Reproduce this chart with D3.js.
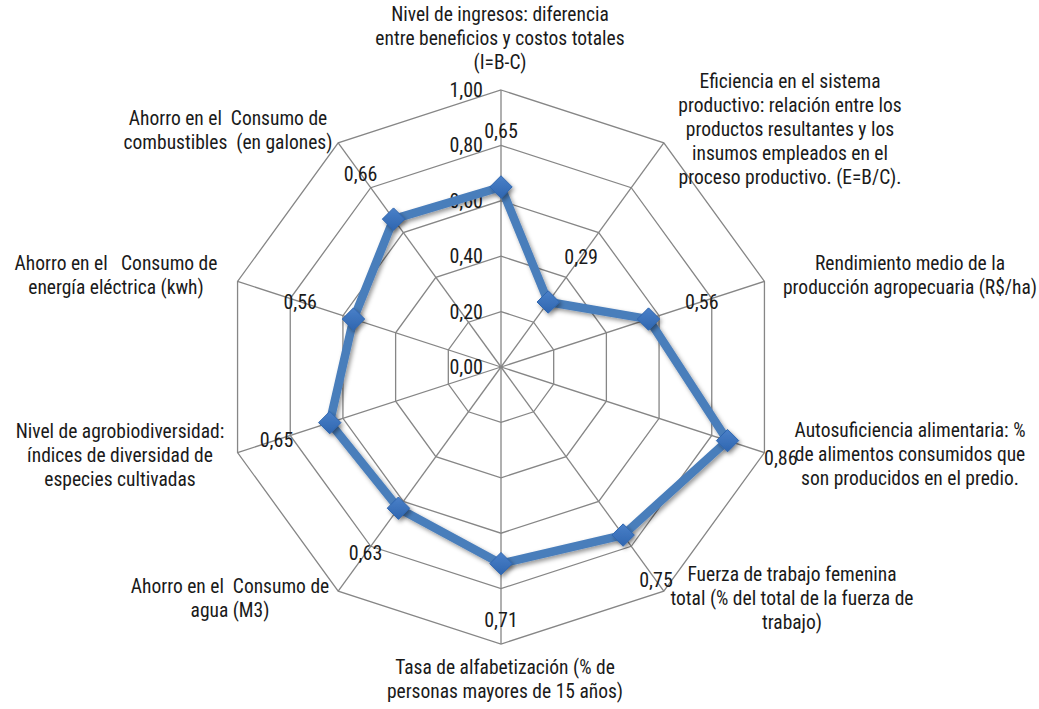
<!DOCTYPE html>
<html>
<head>
<meta charset="utf-8">
<script src="https://cdn.jsdelivr.net/npm/d3@7"></script>
<style>
  body { margin: 0; background: #fff; }
  svg text { font-family: "Liberation Sans Narrow", "Arial Narrow", "Roboto Condensed", "Liberation Sans", sans-serif; fill: #1a1a1a; }
</style>
</head>
<body>
<svg id="chart" width="1039" height="709"></svg>
<script>
// categories (clockwise from top), each label split in lines
const categories = [
  ["Nivel de ingresos: diferencia", "entre beneficios y costos totales", "(I=B-C)"],
  ["Eficiencia en el sistema", "productivo: relación entre los", "productos resultantes y los", "insumos empleados en el", "proceso productivo. (E=B/C)."],
  ["Rendimiento medio de la", "producción agropecuaria (R$/ha)"],
  ["Autosuficiencia alimentaria: %", "de alimentos consumidos que", "son producidos en el predio."],
  ["Fuerza de trabajo femenina", "total (% del total de la fuerza de", "trabajo)"],
  ["Tasa de alfabetización (% de", "personas mayores de 15 años)"],
  ["Ahorro en el  Consumo de", "agua (M3)"],
  ["Nivel de agrobiodiversidad:", "índices de diversidad de", "especies cultivadas"],
  ["Ahorro en el   Consumo de", "energía eléctrica (kwh)"],
  ["Ahorro en el  Consumo de", "combustibles  (en galones)"]
]
const values = [0.65, 0.29, 0.56, 0.86, 0.75, 0.71, 0.63, 0.65, 0.56, 0.66]
const ticks = [0, 0.2, 0.4, 0.6, 0.8, 1.0]

// layout
const cx = 501, cy = 367, R = 277
// centre of each category text block (same order as categories)
const labelCenters = [
  [500, 38], [790, 129], [910, 275], [910, 454], [792, 598],
  [505, 679], [230, 598], [120, 455], [116, 275], [228, 130]
]
const lineH = 24

const svg = d3.select("#chart")
const r = d3.scaleLinear().domain([0, 1]).range([0, R])
const angle = (i) => (i * 2 * Math.PI) / categories.length
const pt = (i, v) => [cx + r(v) * Math.sin(angle(i)), cy - r(v) * Math.cos(angle(i))]

const defs = svg.append("defs")
const f = defs.append("filter").attr("id", "shadow").attr("x", "-50%").attr("y", "-50%").attr("width", "200%").attr("height", "200%")
f.append("feDropShadow").attr("dx", 2).attr("dy", 2.5).attr("stdDeviation", 2).attr("flood-color", "#000").attr("flood-opacity", 0.4)
const grad = defs.append("linearGradient").attr("id", "mk").attr("x1", 0).attr("y1", 0).attr("x2", 0).attr("y2", 1)
grad.append("stop").attr("offset", "0%").attr("stop-color", "#4a80c8")
grad.append("stop").attr("offset", "100%").attr("stop-color", "#2f66b0")

// grid polygons
const grid = svg.append("g")
ticks.slice(1).forEach((t) => {
  grid.append("polygon")
    .attr("points", categories.map((c, i) => pt(i, t).join(",")).join(" "))
    .attr("fill", "none")
    .attr("stroke", "#868686")
    .attr("stroke-width", 1.3)
})
// spokes
categories.forEach((c, i) => {
  const [x, y] = pt(i, 1)
  grid.append("line")
    .attr("x1", cx).attr("y1", cy).attr("x2", x).attr("y2", y)
    .attr("stroke", "#868686").attr("stroke-width", 1.3)
})

// tick labels on top axis
svg.append("g").selectAll("text").data(ticks).join("text")
  .attr("x", cx - 18)
  .attr("y", (d) => cy - r(d))
  .attr("dy", "0.35em")
  .attr("text-anchor", "end")
  .style("font-size", "20px")
  .text((d) => d3.format(".2f")(d).replace(".", ","))

// series line
const line = d3.line().curve(d3.curveLinearClosed)
svg.append("path")
  .attr("d", line(values.map((v, i) => pt(i, v))))
  .attr("fill", "none")
  .attr("stroke", "#4a7ebb")
  .attr("stroke-width", 8.5)
  .attr("stroke-linejoin", "round")
  .attr("filter", "url(#shadow)")

// markers
svg.append("g").selectAll("path").data(values).join("path")
  .attr("d", d3.symbol(d3.symbolDiamond2, 320)())
  .attr("transform", (d, i) => `translate(${pt(i, d)[0]},${pt(i, d)[1]})`)
  .attr("fill", "url(#mk)")
  .attr("stroke", "#2f66b0")
  .attr("stroke-width", 1)
  .attr("filter", "url(#shadow)")

// value labels, pushed outward from each point
svg.append("g").selectAll("text").data(values).join("text")
  .attr("x", (d, i) => cx + (r(d) + 56) * Math.sin(angle(i)))
  .attr("y", (d, i) => cy - (r(d) + 56) * Math.cos(angle(i)))
  .attr("dy", "0.35em")
  .attr("text-anchor", "middle")
  .style("font-size", "20px")
  .text((d) => d3.format(".2f")(d).replace(".", ","))

// category labels
const cats = svg.append("g")
categories.forEach((lines, i) => {
  const [x, y] = labelCenters[i]
  const t = cats.append("text")
    .attr("text-anchor", "middle")
    .style("font-size", "19.5px")
  lines.forEach((s, k) => {
    t.append("tspan")
      .attr("x", x)
      .attr("y", y + (k - (lines.length - 1) / 2) * lineH)
      .attr("dy", "0.35em")
      .style("white-space", "pre")
      .text(s)
  })
})
</script>
</body>
</html>
